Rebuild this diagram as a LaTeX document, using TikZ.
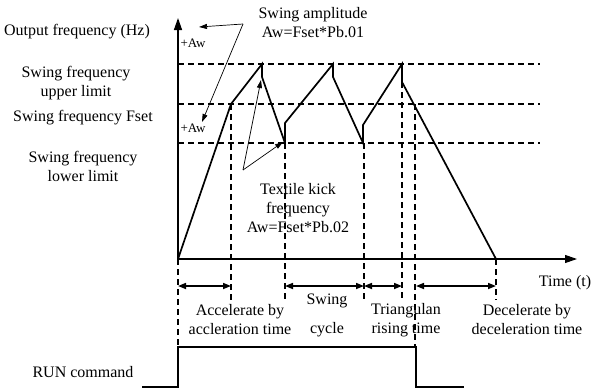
\documentclass[tikz,border=0pt]{standalone}
\usepackage{fontspec}
\setmainfont{Liberation Serif}
\usetikzlibrary{arrows.meta,positioning,calc}

\begin{document}
\begin{tikzpicture}[x=1pt,y=-1pt,
    every node/.style={font=\fontsize{16}{19}\selectfont,inner sep=0pt,align=center},
    small/.style={font=\fontsize{13}{15}\selectfont},
    axis/.style={line width=1.4pt,-{Triangle[length=12pt,width=8pt]}},
    wave/.style={line width=1.7pt,line join=miter},
    guide/.style={line width=1.1pt,dash pattern=on 6pt off 4pt},
    span/.style={line width=1.6pt,{Triangle[length=8pt,width=6pt]}-{Triangle[length=8pt,width=6pt]}},
    pointer/.style={line width=0.7pt,-{Triangle[length=8pt,width=5pt]}}]
  \useasboundingbox (0,0) rectangle (594,388);

  % axes
  \coordinate (o) at (178,259);
  \coordinate (ytip) at (178,18);
  \coordinate (ttip) at (577,259);
  \draw[axis] (o) -- (ytip);
  \draw[axis,line width=1.1pt] (o) -- (ttip);

  % frequency levels and time marks
  \foreach \y in {64,104,143}
    \draw[guide] (178,\y) -- (540,\y);
  \foreach \x/\ya/\yb in {178/259/346,231/104/300,285/143/300,364/143/300,402/82/300,415/104/346,496/259/300}
    \draw[guide] (\x,\ya) -- (\x,\yb);

  % output frequency
  \coordinate (a1) at (231,104);
  \coordinate (p1) at (262,64);
  \coordinate (d1) at (262,77);
  \coordinate (v1) at (285,143);
  \coordinate (r1) at (285,123);
  \coordinate (p2) at (333,64);
  \coordinate (d2) at (333,77);
  \coordinate (v2) at (363,143);
  \coordinate (r2) at (363,125);
  \coordinate (p3) at (402,64);
  \coordinate (d3) at (402,82);
  \coordinate (e)  at (496,259);
  \draw[wave] (o) -- (a1) -- (p1) -- (d1) -- (v1) -- (r1) -- (p2) -- (d2)
    -- (v2) -- (r2) -- (p3) -- (d3) -- (e);

  % run command
  \draw[wave,line width=1.5pt] (142,387) -- (178,387) -- (178,347) -- (416,347) -- (416,387) -- (464,387);

  % intervals
  \foreach \xa/\xb in {178/231,285/364,364/402,416/496}
    \draw[span] (\xa,286) -- (\xb,286);

  \node (yl)  at (77,32)   {Output frequency (Hz)};
  \node (ul)  at (76,83)   {Swing frequency\\upper limit};
  \node (fl)  at (83,118)  {Swing frequency Fset};
  \node (ll)  at (83,166)  {Swing frequency\\lower limit};
  \node[small] (aw1) at (193,43)  {+Aw};
  \node[small] (aw2) at (193,128) {+Aw};
  \node (amp)  at (313,23)  {Swing amplitude\\Aw=Fset*Pb.01};
  \node (kick) at (298,208) {Textile kick\\frequency\\Aw=Fset*Pb.02};
  \node (time) at (565,283) {Time (t)};
  \node (acc)  at (240,320) {Accelerate by\\accleration time};
  \node (cyc)  at (327,315) {Swing\\[10pt]cycle};
  \node (tri)  at (406,320) {Triangulan\\rising time};
  \node (dec)  at (527,320) {Decelerate by\\deceleration time};
  \node (run)  at (83,372)  {RUN command};

  \coordinate (ampv) at (243,24);
  \coordinate (ampa) at (199,27);
  \coordinate (ampb) at (202,122);
  \draw[pointer] (ampv) -- (ampa);
  \draw[pointer] (ampv) -- (ampb);
  \coordinate (kickv) at (243,170);
  \coordinate (kicka) at (261,80);
  \coordinate (kickb) at (283,142);
  \draw[pointer] (kickv) -- (kicka);
  \draw[pointer] (kickv) -- (kickb);
\end{tikzpicture}
\end{document}
